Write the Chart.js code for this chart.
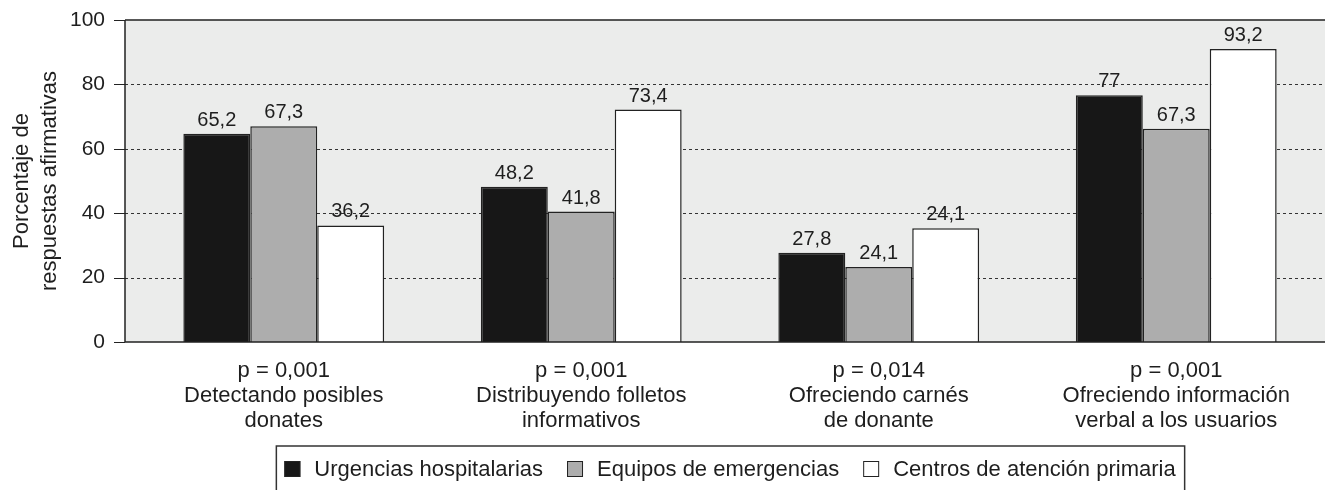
<!DOCTYPE html>
<html>
<head>
<meta charset="utf-8">
<script src="https://cdn.jsdelivr.net/npm/chart.js@4.4.1/dist/chart.umd.min.js"></script>
<style>
  html, body { margin: 0; padding: 0; background: #fff; }
  #wrap { width: 1325px; height: 490px; }
</style>
</head>
<body>
<div id="wrap"><canvas id="chart"></canvas></div>
<script>
// categories (p value + action)
const categories = [
    ["p = 0,001", "Detectando posibles", "donates"],
    ["p = 0,001", "Distribuyendo folletos", "informativos"],
    ["p = 0,014", "Ofreciendo carnés", "de donante"],
    ["p = 0,001", "Ofreciendo información", "verbal a los usuarios"]
];

const seriesNames = ["Urgencias hospitalarias", "Equipos de emergencias", "Centros de atención primaria"];

// bar heights as drawn in the picture
const urgencias = [64.7, 48.2, 27.7, 76.6];
const equipos = [67.0, 40.5, 23.3, 66.2];
const centros = [36.2, 72.2, 35.3, 91.0];

// printed labels above the bars
const urgenciasLabels = ["65,2", "48,2", "27,8", "77"];
const equiposLabels = ["67,3", "41,8", "24,1", "67,3"];
const centrosLabels = ["36,2", "73,4", "24,1", "93,2"];

const yTicks = [0, 20, 40, 60, 80, 100];

const FONT = "Liberation Sans, Arial, sans-serif";
const TEXT = "#1e1e1e";

// plot background, dashed grid, axis lines and tick marks
const plotFrame = {
    id: "plotFrame",
    beforeDatasetsDraw(chart) {
        const { ctx, chartArea } = chart;
        const y = chart.scales.y;
        const left = chartArea.left - 10;
        const right = chart.width;
        ctx.save();
        ctx.fillStyle = "#ebeceb";
        ctx.fillRect(left, chartArea.top, right - left, chartArea.bottom - chartArea.top);

        ctx.strokeStyle = "#333";
        ctx.lineWidth = 1;
        ctx.setLineDash([3, 3]);
        yTicks.forEach(v => {
            if (v === 0 || v === 100) return;
            const py = Math.round(y.getPixelForValue(v)) + 0.5;
            ctx.beginPath();
            ctx.moveTo(left, py);
            ctx.lineTo(right, py);
            ctx.stroke();
        });
        ctx.setLineDash([]);
        ctx.restore();
    },
    afterDatasetsDraw(chart) {
        const { ctx, chartArea } = chart;
        const y = chart.scales.y;
        const left = chartArea.left - 10;
        ctx.save();
        ctx.strokeStyle = "#222";
        ctx.lineWidth = 1.5;
        ctx.beginPath();
        ctx.moveTo(left, chartArea.top);
        ctx.lineTo(chart.width, chartArea.top);
        ctx.moveTo(left, chartArea.top);
        ctx.lineTo(left, chartArea.bottom);
        ctx.lineTo(chart.width, chartArea.bottom);
        ctx.stroke();
        ctx.lineWidth = 1;
        yTicks.forEach(v => {
            const py = Math.round(y.getPixelForValue(v)) + 0.5;
            ctx.beginPath();
            ctx.moveTo(left - 11, py);
            ctx.lineTo(left, py);
            ctx.stroke();
        });

        // value labels
        const labelSets = [urgenciasLabels, equiposLabels, centrosLabels];
        ctx.fillStyle = TEXT;
        ctx.font = "20px " + FONT;
        ctx.textAlign = "center";
        ctx.textBaseline = "alphabetic";
        chart.data.datasets.forEach((ds, i) => {
            chart.getDatasetMeta(i).data.forEach((bar, j) => {
                ctx.fillText(labelSets[i][j], bar.x, bar.y - 8);
            });
        });
        ctx.restore();
    }
};

// boxed legend under the axis labels
const boxLegend = {
    id: "boxLegend",
    afterDraw(chart) {
        const { ctx, chartArea } = chart;
        ctx.save();
        ctx.font = "22px " + FONT;
        const sq = 16, gapText = 14, gapItem = 24;
        const widths = chart.data.datasets.map(ds => ctx.measureText(ds.label).width);
        const total = widths.reduce((a, w) => a + sq + gapText + w, 0) + gapItem * (widths.length - 1);
        const center = (chartArea.left - 10 + chart.width) / 2 + 5;
        let x = center - total / 2;
        const boxLeft = x - 8;
        const cy = 469;
        chart.data.datasets.forEach((ds, i) => {
            ctx.fillStyle = ds.backgroundColor;
            ctx.fillRect(x, cy - sq / 2, sq, sq);
            ctx.strokeStyle = "#222";
            ctx.lineWidth = 1;
            ctx.strokeRect(x + 0.5, cy - sq / 2 + 0.5, sq - 1, sq - 1);
            ctx.fillStyle = TEXT;
            ctx.textBaseline = "middle";
            ctx.textAlign = "left";
            ctx.fillText(ds.label, x + sq + gapText, cy + 1);
            x += sq + gapText + widths[i] + gapItem;
        });
        const boxRight = x - gapItem + 9;
        ctx.strokeStyle = "#333";
        ctx.lineWidth = 1.5;
        ctx.strokeRect(boxLeft, 446, boxRight - boxLeft, 60);
        ctx.restore();
    }
};

const ctx = document.getElementById("chart").getContext("2d");
new Chart(ctx, {
    type: "bar",
    data: {
        labels: categories,
        datasets: [
            { label: seriesNames[0], data: urgencias, backgroundColor: "#171717", borderColor: "#222", borderWidth: 1.5 },
            { label: seriesNames[1], data: equipos, backgroundColor: "#adadad", borderColor: "#222", borderWidth: 1.5 },
            { label: seriesNames[2], data: centros, backgroundColor: "#ffffff", borderColor: "#222", borderWidth: 1.5 }
        ]
    },
    options: {
        responsive: true,
        maintainAspectRatio: false,
        animation: false,
        layout: { padding: { top: 20, left: 0, right: 0, bottom: 0 } },
        datasets: { bar: { barPercentage: 1, categoryPercentage: 0.675 } },
        plugins: {
            legend: { display: false },
            tooltip: { enabled: false }
        },
        scales: {
            x: {
                grid: { display: false, drawTicks: false },
                border: { display: false },
                ticks: {
                    color: TEXT,
                    font: { family: FONT, size: 22, lineHeight: 1.12 },
                    padding: 17,
                    maxRotation: 0,
                    autoSkip: false
                },
                afterFit(scale) {
                    scale.height = 148;
                    scale.paddingLeft = 0;
                    scale.paddingRight = 0;
                }
            },
            y: {
                min: 0,
                max: 100,
                grid: { display: false, drawTicks: false },
                border: { display: false },
                ticks: {
                    stepSize: 20,
                    color: TEXT,
                    font: { family: FONT, size: 21 },
                    padding: 30
                },
                title: {
                    display: true,
                    text: ["Porcentaje de", "respuestas afirmativas"],
                    color: TEXT,
                    font: { family: FONT, size: 22, lineHeight: 1.27 },
                    padding: { top: 8, bottom: 0 }
                },
                afterFit(scale) {
                    scale.width = 135;
                    scale.paddingTop = 0;
                    scale.paddingBottom = 0;
                }
            }
        }
    },
    plugins: [plotFrame, boxLegend]
});
</script>
</body>
</html>
